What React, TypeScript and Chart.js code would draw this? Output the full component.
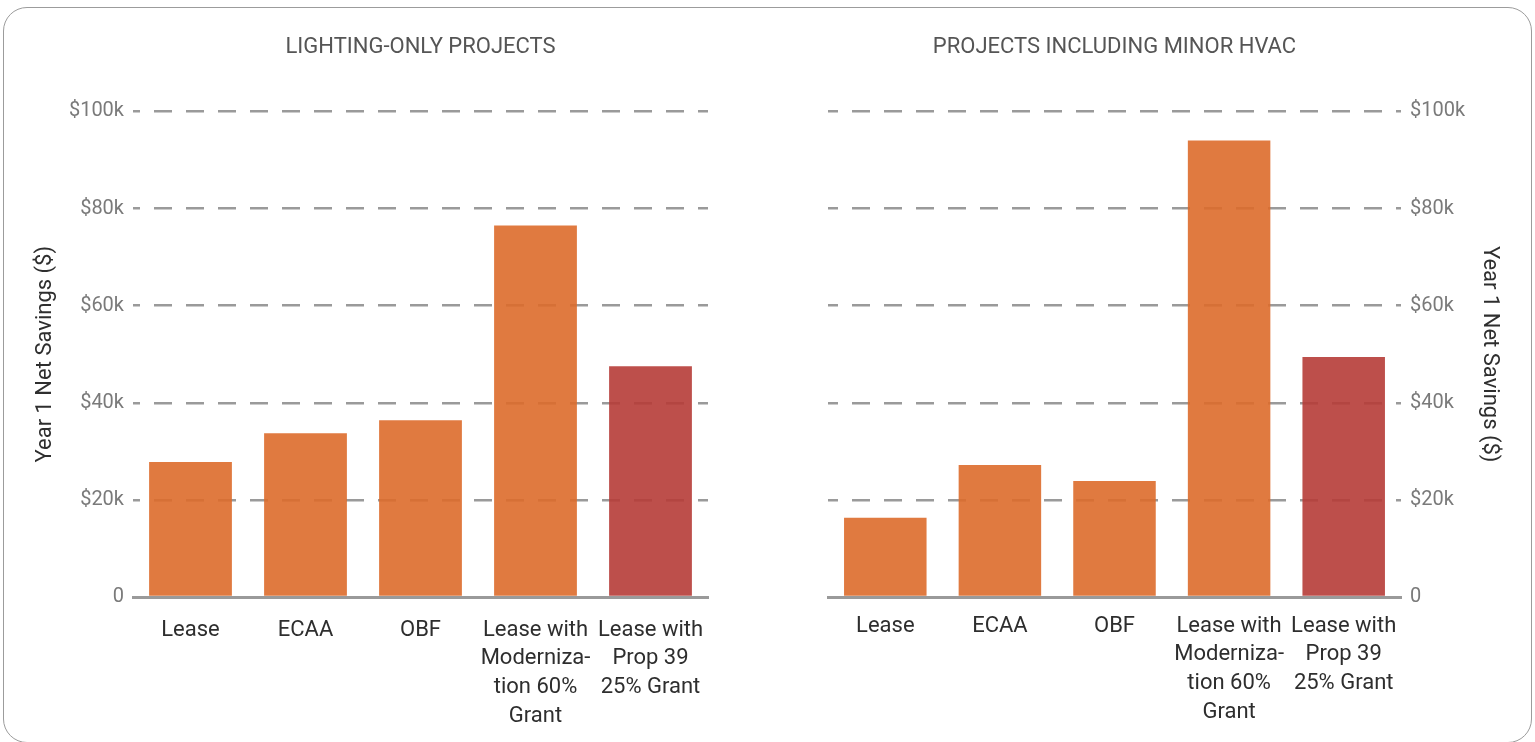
import React, { useEffect, useRef } from "react";
import { Chart, registerables } from "chart.js";

Chart.register(...registerables);

// ---- Data ----
const categories: string[][] = [
  ["Lease"],
  ["ECAA"],
  ["OBF"],
  ["Lease with", "Moderniza-", "tion 60%", "Grant"],
  ["Lease with", "Prop 39", "25% Grant"],
];
const lightingValues = [27800, 33700, 36400, 76500, 47500];
const hvacValues = [16300, 27200, 23900, 94000, 49400];
const yTickValues = [0, 20000, 40000, 60000, 80000, 100000];
const leftTitle = "LIGHTING-ONLY PROJECTS";
const rightTitle = "PROJECTS INCLUDING MINOR HVAC";
const yAxisTitle = "Year 1 Net Savings ($)";

const ORANGE = "rgba(221,108,43,0.9)";
const RED = "rgba(182,60,55,0.9)";
const barColors = [ORANGE, ORANGE, ORANGE, ORANGE, RED];

const FONT = "'Liberation Sans Narrow', 'Roboto', 'DejaVu Sans', sans-serif";

function formatTick(v: number): string {
  return v === 0 ? "0" : "$" + v / 1000 + "k";
}

type PanelProps = {
  side: "left" | "right";
  title: string;
  values: number[];
  left: number;
  width: number;
};

function Panel({ side, title, values, left, width }: PanelProps) {
  const ref = useRef<HTMLCanvasElement | null>(null);
  useEffect(() => {
    if (!ref.current) return;
    const isLeft = side === "left";
    const chart = new Chart(ref.current, {
      type: "bar",
      data: {
        labels: categories,
        datasets: [
          {
            data: values,
            backgroundColor: barColors,
            borderWidth: 0,
            barPercentage: 0.72,
            categoryPercentage: 1,
          },
        ],
      },
      options: {
        responsive: false,
        animation: false,
        layout: {
          padding: isLeft
            ? { left: 0, right: 62, top: 0, bottom: 0 }
            : { left: 58, right: 0, top: 0, bottom: 0 },
        },
        plugins: {
          legend: { display: false },
          tooltip: { enabled: false },
          title: {
            display: true,
            text: title,
            fullSize: false,
            color: "#555555",
            font: { family: FONT, size: 22, weight: "normal" as any },
            padding: { top: 34, bottom: 51 },
          },
        },
        scales: {
          x: {
            grid: { display: false },
            border: { display: true, color: "#9a9a9a", width: 3 },
            ticks: {
              color: "#2e2e2e",
              font: { family: FONT, size: 22, lineHeight: 1.3 },
              padding: isLeft ? 11 : 7,
              maxRotation: 0,
              minRotation: 0,
              autoSkip: false,
            },
            afterFit: (scale: any) => {
              scale.height = 145;
            },
          },
          y: {
            position: isLeft ? "left" : "right",
            min: 0,
            max: 100000,
            afterBuildTicks: (scale: any) => {
              scale.ticks = yTickValues.map((v) => ({ value: v }));
            },
            ticks: {
              color: "#7a7a7a",
              font: { family: FONT, size: 20 },
              padding: 9,
              callback: (v: any) => formatTick(Number(v)),
            },
            grid: {
              color: "#9a9a9a",
              lineWidth: 2.5,
              drawTicks: false,
              tickLength: 0,
            },
            border: { display: false, dash: [18, 14], dashOffset: isLeft ? 11 : 8 },
            title: {
              display: true,
              text: yAxisTitle,
              color: "#2e2e2e",
              font: { family: FONT, size: 22 },
              padding: { top: 32, bottom: 0 },
            },
            afterFit: (scale: any) => {
              scale.width = isLeft ? 133 : 134;
            },
          },
        },
      },
    } as any);
    return () => chart.destroy();
  }, [side, title, values]);
  return (
    <canvas
      ref={ref}
      width={width}
      height={742}
      style={{ position: "absolute", left, top: 0, width, height: 742 }}
    />
  );
}

export default function App() {
  return (
    <div
      style={{
        position: "fixed",
        left: 0,
        top: 0,
        width: 1535,
        height: 742,
        overflow: "hidden",
        background: "#ffffff",
      }}
    >
      <div
        style={{
          position: "absolute",
          left: 3,
          top: 7,
          width: 1529,
          height: 736,
          border: "1.5px solid #9c9c9c",
          borderRadius: 24,
          boxSizing: "border-box",
        }}
      />
      <Panel side="left" title={leftTitle} values={lightingValues} left={0} width={770} />
      <Panel side="right" title={rightTitle} values={hvacValues} left={770} width={765} />
    </div>
  );
}
